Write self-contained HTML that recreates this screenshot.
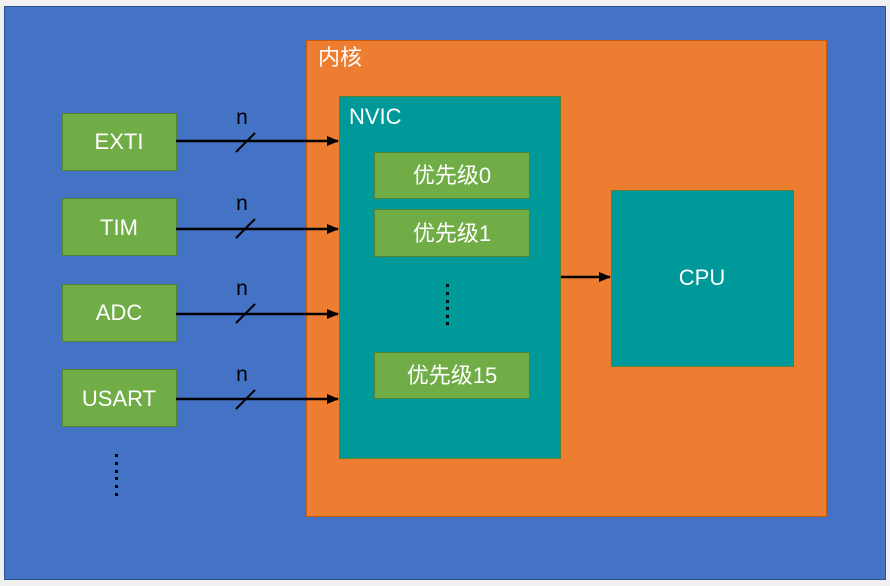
<!DOCTYPE html>
<html><head><meta charset="utf-8"><style>
html,body{margin:0;padding:0;background:#f0f0f0;}
svg{display:block}
text{font-family:"Liberation Sans","Noto Sans CJK SC",sans-serif;}
</style></head><body>
<svg width="890" height="586" xmlns="http://www.w3.org/2000/svg">
<defs><marker id="a" markerWidth="12" markerHeight="10" refX="11" refY="5" orient="auto" markerUnits="userSpaceOnUse"><path d="M0,0 L12,5 L0,10 z" fill="#000"/></marker></defs>
<rect x="4.5" y="6.5" width="881" height="573" fill="#4472c4" stroke="#2f528f"/>
<rect x="306.5" y="40.5" width="520" height="476" fill="#ed7d31" stroke="#c55a11"/>
<text x="318" y="65" font-size="22" fill="#fff">内核</text>
<rect x="339.5" y="96.5" width="221" height="362" fill="#009999" stroke="#538135"/>
<text x="349" y="124" font-size="22" fill="#fff">NVIC</text>
<g fill="#70ad47" stroke="#538135">
<rect x="374.5" y="152.5" width="155" height="46"/>
<rect x="374.5" y="209.5" width="155" height="47"/>
<rect x="374.5" y="352.5" width="155" height="46"/>
<rect x="611.5" y="190.5" width="182" height="176" fill="#009999"/>
<rect x="62.5" y="113.5" width="114" height="57"/>
<rect x="62.5" y="198.5" width="114" height="57"/>
<rect x="62.5" y="284.5" width="114" height="57"/>
<rect x="62.5" y="369.5" width="114" height="57"/>
</g>
<g font-size="22" fill="#fff" text-anchor="middle">
<text x="452" y="183">优先级0</text>
<text x="452" y="241">优先级1</text>
<text x="452" y="383">优先级15</text>
<text x="702" y="285">CPU</text>
<text x="119" y="149">EXTI</text>
<text x="119" y="235">TIM</text>
<text x="119" y="320">ADC</text>
<text x="119" y="406">USART</text>
</g>
<g stroke="#000" stroke-width="2.5">
<line x1="176" y1="141" x2="338" y2="141" marker-end="url(#a)"/>
<line x1="176" y1="229" x2="338" y2="229" marker-end="url(#a)"/>
<line x1="176" y1="314" x2="338" y2="314" marker-end="url(#a)"/>
<line x1="176" y1="399" x2="338" y2="399" marker-end="url(#a)"/>
<line x1="561" y1="277" x2="610" y2="277" marker-end="url(#a)"/>
</g>
<g stroke="#000" stroke-width="2">
<line x1="236" y1="152" x2="255" y2="133"/>
<line x1="236" y1="238" x2="255" y2="219"/>
<line x1="236" y1="323" x2="255" y2="304"/>
<line x1="236" y1="409" x2="255" y2="390"/>
</g>
<g font-size="21" fill="#000" text-anchor="middle">
<text x="242" y="124">n</text>
<text x="242" y="210">n</text>
<text x="242" y="295">n</text>
<text x="242" y="381">n</text>
</g>
<g fill="#000">
<rect x="446" y="284" width="3" height="3"/><rect x="446" y="292" width="3" height="3"/><rect x="446" y="300" width="3" height="3"/><rect x="446" y="307" width="3" height="3"/><rect x="446" y="315" width="3" height="3"/><rect x="446" y="322" width="3" height="3"/>
<rect x="115" y="454" width="3" height="3"/><rect x="115" y="462" width="3" height="3"/><rect x="115" y="470" width="3" height="3"/><rect x="115" y="477" width="3" height="3"/><rect x="115" y="485" width="3" height="3"/><rect x="115" y="493" width="3" height="3"/>
</g>
</svg>
</body></html>
